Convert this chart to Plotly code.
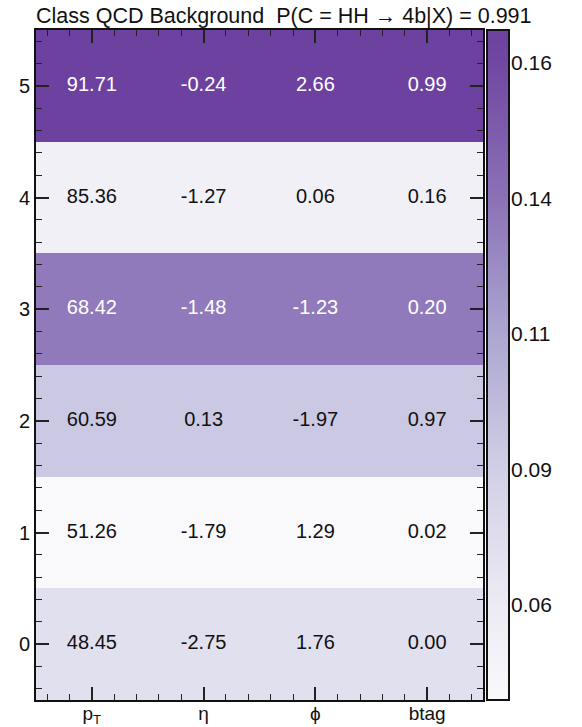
import plotly.graph_objects as go

# ---- data ----
feature_labels = ["p<sub>T</sub>", "η", "\u03d5", "btag"]
row_labels = ["0", "1", "2", "3", "4", "5"]
# per-row feature values (rows 0..5)
pt_vals = [48.45, 51.26, 60.59, 68.42, 85.36, 91.71]
eta_vals = [-2.75, -1.79, 0.13, -1.48, -1.27, -0.24]
phi_vals = [1.76, 1.29, -1.97, -1.23, 0.06, 2.66]
btag_vals = [0.00, 0.02, 0.97, 0.20, 0.16, 0.99]
# per-row weight (colour value)
row_weights = [0.070, 0.0424, 0.089, 0.131, 0.053, 0.1661]
title_text = "Class QCD Background  P(C = HH \u2192 4b|X) = 0.991"
cbar_tickvals = [0.06, 0.085, 0.11, 0.135, 0.16]
cbar_ticktext = ["0.06", "0.09", "0.11", "0.14", "0.16"]

columns = [pt_vals, eta_vals, phi_vals, btag_vals]
n_rows = len(row_labels)
n_cols = len(feature_labels)
zmin, zmax = min(row_weights), max(row_weights)

z = [[row_weights[r]] * n_cols for r in range(n_rows)]

colorscale = [
    [0.0, "#f9f8fb"],
    [0.142, "#ecebf4"],
    [0.344, "#d1cfe6"],
    [0.547, "#aca6d1"],
    [0.749, "#8b71b7"],
    [0.951, "#7147a2"],
    [1.0, "#6c419f"],
]

FONT = "Liberation Sans, Arial, Helvetica, sans-serif"

fig = go.Figure()
fig.add_trace(go.Heatmap(
    z=z,
    x=list(range(n_cols)),
    y=list(range(n_rows)),
    zmin=zmin, zmax=zmax,
    colorscale=colorscale,
    hoverinfo="skip",
    colorbar=dict(
        x=(487 - 36) / 474, xanchor="left", xpad=0,
        y=0.5, yanchor="middle", ypad=0,
        len=1.0, lenmode="fraction",
        thickness=22,
        outlinewidth=2, outlinecolor="#111",
        showticklabels=False, ticks="",
    ),
))

# cell texts
tx, ty, tt, tc = [], [], [], []
for r in range(n_rows):
    for c in range(n_cols):
        tx.append(c)
        ty.append(r)
        tt.append(f"{columns[c][r]:.2f}")
        tc.append("white" if row_weights[r] > 0.12 else "#111")
fig.add_trace(go.Scatter(
    x=tx, y=ty, text=tt, mode="text",
    textfont=dict(family=FONT, size=20, color=tc),
    hoverinfo="skip", showlegend=False,
))

# empty trace to host the colour-bar axis
fig.add_trace(go.Scatter(x=[None], y=[None], yaxis="y3", mode="markers",
                         showlegend=False, hoverinfo="skip"))

axis_common = dict(
    showline=True, linewidth=2, linecolor="#111", mirror="ticks",
    ticks="inside", ticklen=13, tickwidth=1.5, tickcolor="#222",
    showgrid=False, zeroline=False, automargin=False,
    minor=dict(ticks="inside", ticklen=6, tickwidth=1.2, tickcolor="#222",
               dtick=0.2, tick0=0, showgrid=False),
)

fig.update_layout(
    width=582, height=727,
    margin=dict(l=36, r=72, t=30, b=27, pad=0),
    paper_bgcolor="white", plot_bgcolor="white",
    showlegend=False,
    font=dict(family=FONT, color="#111"),
    xaxis=dict(
        domain=[0, 447 / 474],
        range=[-0.5, n_cols - 0.5],
        tickmode="array", tickvals=list(range(n_cols)), ticktext=feature_labels,
        tickfont=dict(family=FONT, size=19, color="#111"),
        ticklabelstandoff=-5,
        **axis_common,
    ),
    yaxis=dict(
        range=[-0.5, n_rows - 0.5],
        tickmode="array", tickvals=list(range(n_rows)), ticktext=row_labels,
        tickfont=dict(family=FONT, size=20, color="#111"),
        **axis_common,
    ),
    yaxis3=dict(
        overlaying="y", anchor="free", position=1.0, side="right",
        range=[zmin, zmax], automargin=False,
        tickmode="array", tickvals=cbar_tickvals, ticktext=cbar_ticktext,
        ticks="inside", ticklen=13, tickwidth=1.5, tickcolor="#222",
        minor=dict(ticks="inside", ticklen=6, tickwidth=1.2, tickcolor="#222",
                   dtick=0.005, tick0=0.06, showgrid=False),
        showline=False, showgrid=False, zeroline=False,
        tickfont=dict(family=FONT, size=21, color="#111"),
    ),
    title=dict(
        text=title_text,
        x=0, xref="paper", xanchor="left",
        y=1 - 15 / 727, yref="container", yanchor="middle",
        font=dict(family=FONT, size=21.5, color="#111"),
    ),
)

fig.write_html("out.html")
